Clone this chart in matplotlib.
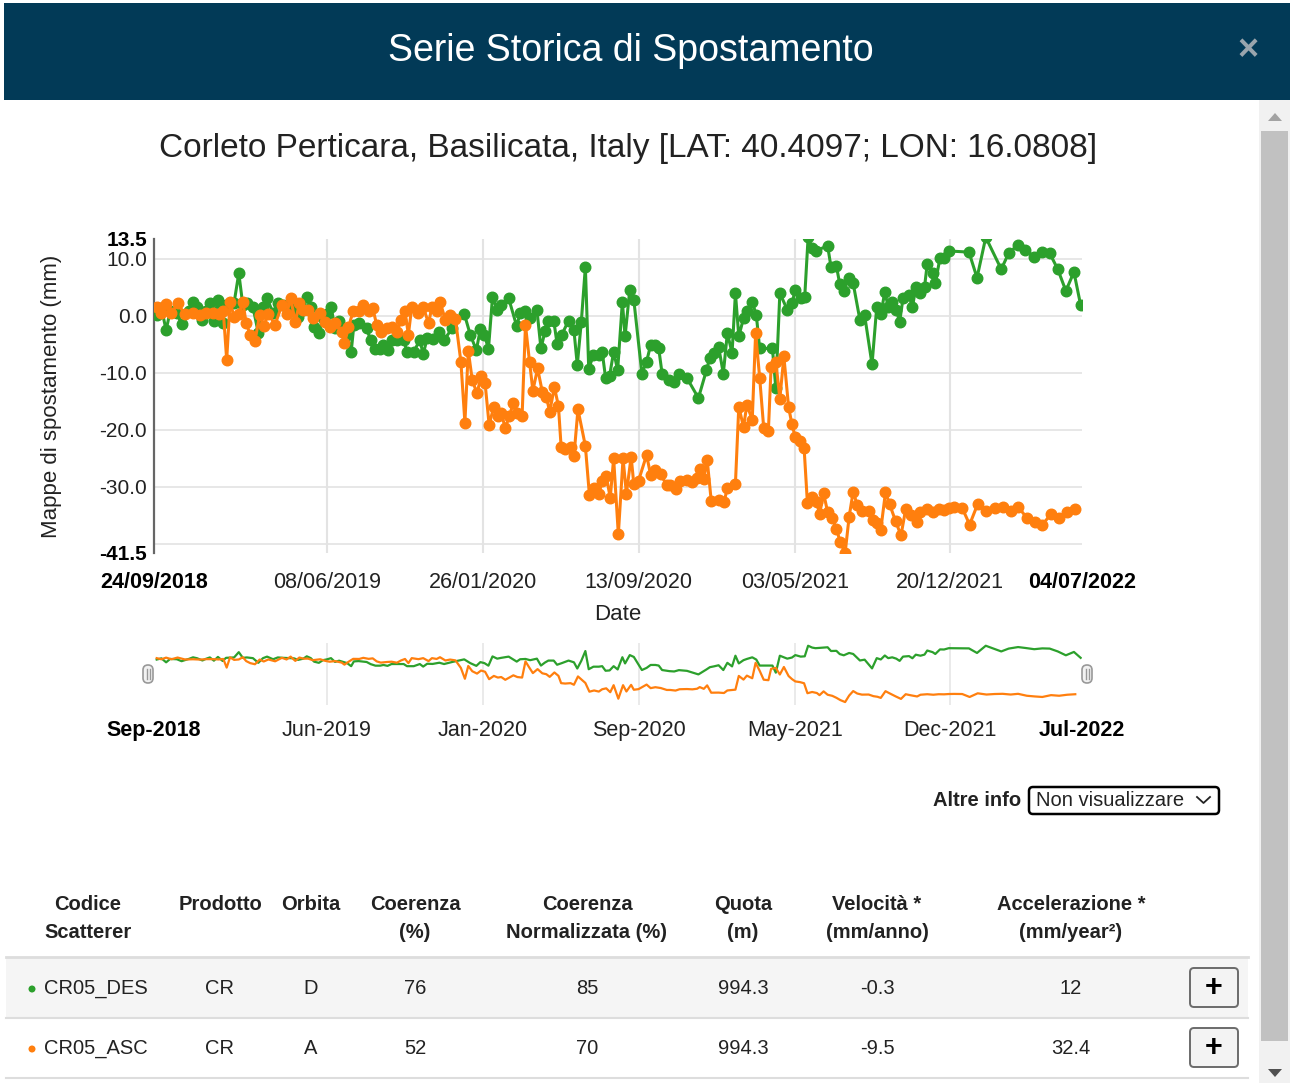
import matplotlib
matplotlib.use("Agg")
import matplotlib.pyplot as plt
from matplotlib.patches import Rectangle, FancyBboxPatch, Circle, Polygon
import pandas as pd

plt.rcParams['font.family'] = ['Liberation Sans', 'DejaVu Sans']

W, H = 1290, 1083

# ---------------- data ----------------
start_date = pd.Timestamp('2018-09-24')
end_date = pd.Timestamp('2022-07-04')

# CR05_DES (green): days since start date, displacement (mm)
des_day = [4, 11, 18, 24, 34, 41, 52, 58, 64, 72, 77, 83, 89, 95, 102, 107, 119, 126, 132, 138,
           147, 155, 162, 168, 177, 184, 192, 201, 208, 214, 222, 227, 233, 238, 245, 251, 257, 263,
           269, 275, 287, 293, 297, 304, 316, 322, 329, 336, 341, 347, 353, 361, 371, 376, 386, 395,
           400, 406, 414, 424, 431, 443, 461, 470, 479, 485, 491, 497, 503, 510, 516, 527, 539, 544,
           552, 559, 569, 575, 581, 586, 594, 599, 606, 616, 624, 629, 635, 641, 646, 653, 661, 666,
           671, 677, 683, 689, 696, 700, 707, 713, 725, 732, 738, 745, 750, 755, 766, 773, 780, 792,
           809, 821, 826, 832, 839, 846, 852, 859, 864, 869, 876, 881, 889, 895, 900, 919, 924, 930,
           941, 948, 953, 961, 967, 972, 978, 983, 1001, 1006, 1014, 1019, 1025, 1033, 1039, 1049,
           1056, 1067, 1074, 1080, 1086, 1091, 1097, 1103, 1108, 1113, 1122, 1127, 1132, 1139, 1145,
           1149, 1157, 1161, 1168, 1174, 1181, 1211, 1223, 1236, 1259, 1270, 1284, 1295, 1308, 1320,
           1331, 1343, 1355, 1367, 1377]
des_val = [0.2, 1.4, -2.5, 0.8, 0.5, -1.4, 0.9, 2.4, 1.5, -0.7, 0.9, 2.3, -0.9, 2.8, -1.2, 1.9, 2.3, 7.5, 1.9, 2.3,
           1.6, -3.0, 1.6, 3.1, 0.5, 2.3, 1.9, 1.6, 1.4, -0.1, 1.1, 3.4, 1.6, -1.9, -3.0, -0.4, 0.4, 1.6,
           -2.1, -0.9, -3.3, -6.3, -1.6, -1.3, -2.2, -4.3, -5.8, -5.8, -5.1, -6.0, -4.2, -4.2, -4.2, -6.3, -6.3, -4.2,
           -6.7, -3.9, -4.1, -2.9, -4.2, -2.2, 0.4, -3.3, -6.0, -2.3, -3.3, -5.8, 3.3, 1.1, 1.9, 3.1, -1.8, 0.5,
           0.8, -0.4, 1.1, -5.7, -2.7, -0.8, -0.8, -4.9, -3.3, -0.8, -2.5, -8.6, -1.0, 8.6, -9.3, -6.8, -6.8, -6.3,
           -10.8, -10.5, -6.3, -9.5, 2.5, -3.6, 4.6, 2.8, -10.1, -8.0, -5.1, -5.1, -5.7, -10.1, -11.2, -11.5, -10.2, -10.9,
           -14.4, -9.5, -7.3, -6.5, -5.4, -10.1, -3.0, -6.5, 4.0, -3.6, -0.4, 0.8, 2.4, 0.2, -5.7, -5.7, -12.7, 4.0,
           1.1, 2.2, 4.6, 3.1, 3.4, 13.8, 12.0, 11.4, 12.3, 8.6, 8.8, 5.6, 4.4, 6.7, 5.7, -0.7,
           0.1, -8.5, 1.6, 0.3, 4.2, 1.6, 2.4, 1.1, -1.1, 3.1, 3.6, 1.5, 5.0, 4.0, 5.1,
           9.1, 7.5, 5.7, 10.2, 10.1, 11.4, 11.2, 6.7, 13.8, 8.2, 11.0, 12.5, 11.6, 10.4, 11.2,
           11.0, 8.2, 4.4, 7.7, 1.9]

# CR05_ASC (orange)
asc_day = [4, 11, 18, 26, 35, 46, 58, 68, 78, 88, 96, 103, 108, 113, 119, 126, 132, 137, 143, 150,
           157, 163, 170, 180, 190, 197, 203, 210, 216, 222, 229, 236, 247, 254, 261, 269, 279, 283, 289,
           296, 305, 311, 319, 325, 331, 337, 346, 353, 361, 367, 373, 378, 383, 393, 400, 408, 413, 420,
           425, 433, 440, 448, 456, 462, 467, 473, 480, 486, 492, 498, 505, 511, 516, 522, 528, 534, 540,
           547, 552, 558, 563, 570, 577, 583, 588, 595, 601, 605, 611, 619, 624, 630, 641, 647, 654, 661,
           666, 672, 678, 683, 690, 697, 702, 709, 713, 720, 732, 738, 745, 753, 762, 767, 775, 781, 792,
           800, 807, 811, 817, 822, 828, 839, 847, 852, 864, 869, 876, 881, 889, 894, 900, 906, 913, 917,
           924, 930, 936, 943, 948, 953, 960, 966, 971, 978, 985, 989, 995, 1001, 1008, 1014, 1020, 1027,
           1033, 1039, 1045, 1052, 1062, 1069, 1075, 1080, 1087, 1093, 1102, 1110, 1117, 1125, 1134, 1139,
           1149, 1158, 1166, 1174, 1181, 1189, 1201, 1212, 1224, 1237, 1249, 1261, 1273, 1284, 1297, 1309,
           1320, 1333, 1345, 1357, 1369]
asc_val = [1.6, 0.5, 2.1, 0.5, 2.2, 0.3, 0.5, 0.2, 0.6, 0.6, 0.3, 0.8, -7.7, 2.4, -0.1, 0.3, 2.5, -1.3, -3.3, -4.4,
           0.2, -1.7, 0.3, -1.5, 1.9, 0.3, 3.1, -1.1, 2.2, 1.1, 1.1, -0.4, 0.5, -1.0, -1.9, -1.3, -2.8, -4.8, -2.0,
           0.9, 0.8, 1.9, 0.9, 1.4, -1.6, -2.8, -2.2, -1.9, -2.9, -0.7, 0.8, -3.3, 1.6, 0.6, 1.6, -1.3, 1.6, 0.8,
           2.5, -0.7, 0.2, -0.6, -8.0, -18.7, -6.1, -11.3, -13.6, -10.6, -11.8, -19.1, -15.9, -17.5, -17.0, -19.7, -17.5, -15.3, -17.0,
           -17.5, -1.6, -8.0, -13.1, -9.2, -13.3, -14.2, -16.8, -12.5, -15.8, -23.0, -23.4, -23.0, -24.6, -16.4, -22.8, -31.4, -30.2, -31.3,
           -29.0, -28.1, -31.9, -25.0, -38.3, -25.0, -31.2, -24.7, -29.5, -28.9, -24.4, -27.9, -27.0, -27.8, -29.7, -29.7, -30.3, -29.0, -28.8,
           -29.1, -28.5, -26.9, -28.6, -25.2, -32.4, -32.3, -32.7, -30.2, -29.4, -15.9, -19.5, -15.6, -18.2, -3.0, -10.8, -19.6, -20.1, -8.9,
           -8.0, -14.5, -7.1, -16.0, -19.0, -21.3, -22.0, -23.1, -32.9, -31.7, -32.7, -34.8, -31.1, -34.4, -35.5, -37.4, -39.7, -41.6,
           -35.2, -30.8, -33.2, -34.3, -34.2, -35.8, -36.4, -37.5, -30.9, -33.0, -36.0, -38.5, -33.9, -35.0, -36.1, -34.4,
           -33.9, -34.4, -33.9, -34.0, -33.7, -33.6, -33.7, -36.6, -33.0, -34.2, -33.7, -33.5, -34.2, -33.5, -35.4, -36.1,
           -36.6, -34.8, -35.4, -34.4, -33.9]

tick_dates = ['2018-09-24', '2019-06-08', '2020-01-26', '2020-09-13', '2021-05-03', '2021-12-20', '2022-07-04']
nav_labels = ['Sep-2018', 'Jun-2019', 'Jan-2020', 'Sep-2020', 'May-2021', 'Dec-2021', 'Jul-2022']
y_ticks = [10, 0, -10, -20, -30]
y_grid = [10, 0, -10, -20, -30, -40]
y_min, y_max = -41.5, 13.5

title = 'Serie Storica di Spostamento'
subtitle = 'Corleto Perticara, Basilicata, Italy [LAT: 40.4097; LON: 16.0808]'
y_label = 'Mappe di spostamento (mm)'
x_label = 'Date'

table_header = [('Codice', 'Scatterer'), ('Prodotto', ''), ('Orbita', ''), ('Coerenza', '(%)'),
                ('Coerenza', 'Normalizzata (%)'), ('Quota', '(m)'), ('Velocità *', '(mm/anno)'),
                ('Accelerazione *', '(mm/year²)')]
table_rows = [
    ['CR05_DES', 'CR', 'D', '76', '85', '994.3', '-0.3', '12'],
    ['CR05_ASC', 'CR', 'A', '52', '70', '994.3', '-9.5', '32.4'],
]

GREEN = '#2ca02c'
ORANGE = '#ff7f0e'
NAVY = '#023a57'

des_dates = start_date + pd.to_timedelta(des_day, unit='D')
asc_dates = start_date + pd.to_timedelta(asc_day, unit='D')
ticks = pd.to_datetime(tick_dates)

# ---------------- figure ----------------
fig = plt.figure(figsize=(W / 100, H / 100), dpi=100)
fig.patch.set_facecolor('white')

bg = fig.add_axes([0, 0, 1, 1], zorder=0)
bg.set_xlim(0, W)
bg.set_ylim(H, 0)
bg.axis('off')

def px_axes(x0, y0, x1, y1, **kw):
    return fig.add_axes([x0 / W, 1 - y1 / H, (x1 - x0) / W, (y1 - y0) / H], **kw)

# header
bg.add_patch(Rectangle((4, 3), W - 4, 97, facecolor=NAVY, edgecolor='none'))
bg.text(631, 51, title, color='white', fontsize=27, ha='center', va='center')
bg.text(1248, 51, '×', color='#9aa5ad', fontsize=26, fontweight='bold', ha='center', va='center')

# scrollbar
bg.add_patch(Rectangle((1259, 100), 31, H - 100, facecolor='#f1f1f1', edgecolor='none'))
bg.add_patch(Rectangle((1261, 131), 27, 910, facecolor='#c1c1c1', edgecolor='none'))
bg.add_patch(Polygon([[1268, 121], [1282, 121], [1275, 113]], closed=True, facecolor='#a3a3a3', edgecolor='none'))
bg.add_patch(Polygon([[1268, 1069], [1282, 1069], [1275, 1077]], closed=True, facecolor='#505050', edgecolor='none'))

# subtitle
bg.text(628, 149, subtitle, color='#222222', fontsize=24, ha='center', va='center')

# ---------------- main chart ----------------
ax = px_axes(154, 239, 1082, 552.5, zorder=2)
ax.set_facecolor('none')
for yv in y_grid:
    ax.axhline(yv, color='#e3e3e3', lw=1.2, zorder=0)
for t in ticks[1:-1]:
    ax.axvline(t, color='#e3e3e3', lw=1.5, zorder=0)
ax.plot(des_dates, des_val, color=GREEN, lw=2.2, marker='o', ms=7.6, zorder=3)
ax.plot(asc_dates, asc_val, color=ORANGE, lw=2.2, marker='o', ms=7.6, zorder=4)
ax.set_xlim(start_date, end_date)
ax.set_ylim(y_min, y_max)
for s in ['top', 'right', 'bottom']:
    ax.spines[s].set_visible(False)
ax.spines['left'].set_color('#666666')
ax.spines['left'].set_linewidth(1.6)
ax.set_yticks([y_max] + y_ticks + [y_min])
ax.set_yticklabels([f'{v:.1f}' for v in [y_max] + y_ticks + [y_min]])
ax.tick_params(axis='y', length=0, pad=5, labelsize=15, labelcolor='#222222')
ax.set_xticks(ticks)
ax.set_xticklabels([t.strftime('%d/%m/%Y') for t in ticks])
ax.tick_params(axis='x', length=0, pad=14, labelsize=15.5, labelcolor='#222222')
for i, lab in enumerate(ax.get_yticklabels()):
    if i in (0, len(y_ticks) + 1):
        lab.set_fontweight('bold')
        lab.set_color('black')
xl = ax.get_xticklabels()
for i in (0, len(xl) - 1):
    xl[i].set_fontweight('bold')
    xl[i].set_color('black')

bg.text(618, 615, x_label, fontsize=16, color='#222222', ha='center', va='center')
bg.text(52, 396, y_label, fontsize=16, color='#222222', ha='center', va='center', rotation=90)

# ---------------- navigator ----------------
nav = px_axes(154, 643, 1082, 705, zorder=2)
nav.set_facecolor('none')
for t in ticks[1:-1]:
    nav.axvline(t, color='#e6e6e6', lw=1.2, zorder=0)
nav.plot(des_dates, des_val, color=GREEN, lw=1.6, zorder=3)
nav.plot(asc_dates, asc_val, color=ORANGE, lw=1.6, zorder=4)
nav.set_xlim(start_date, end_date)
nav.set_ylim(-44.5, 16.5)
for s in nav.spines.values():
    s.set_visible(False)
nav.set_yticks([])
nav.set_xticks(ticks)
nav.set_xticklabels(nav_labels)
nav.tick_params(axis='x', length=0, pad=11, labelsize=15.5, labelcolor='#222222')
nl = nav.get_xticklabels()
for i in (0, len(nl) - 1):
    nl[i].set_fontweight('bold')
    nl[i].set_color('black')

for hx in (148, 1087):
    bg.add_patch(FancyBboxPatch((hx - 5, 665), 10, 18, boxstyle='round,pad=0,rounding_size=5',
                                facecolor='#f2f2f2', edgecolor='#999999', lw=1.2, zorder=3))
    bg.plot([hx - 1.5, hx - 1.5], [669, 679], color='#999999', lw=1, zorder=4)
    bg.plot([hx + 1.5, hx + 1.5], [669, 679], color='#999999', lw=1, zorder=4)

# ---------------- "Altre info" ----------------
bg.text(1021, 801, 'Altre info', fontsize=14.5, fontweight='bold', color='#222222', ha='right', va='center')
bg.add_patch(FancyBboxPatch((1029, 787), 190, 27, boxstyle='round,pad=0,rounding_size=4',
                            facecolor='white', edgecolor='black', lw=1.8))
bg.text(1036, 801, 'Non visualizzare', fontsize=14.5, color='#222222', ha='left', va='center')
bg.plot([1197, 1203.5, 1210], [797, 803, 797], color='#222222', lw=1.3)

# ---------------- table ----------------
col_x = [88, 220, 311, 415, 587, 743, 877, 1071]
for cx, (h1, h2) in zip(col_x, table_header):
    bg.text(cx, 904, h1, fontsize=14.5, fontweight='bold', color='#222222', ha='center', va='center')
    if h2:
        bg.text(cx, 933, h2, fontsize=14.5, fontweight='bold', color='#222222', ha='center', va='center')

bg.add_patch(Rectangle((6, 958), 1242, 60, facecolor='#f5f5f5', edgecolor='none'))
bg.plot([6, 1248], [957, 957], color='#dddddd', lw=2)
bg.plot([6, 1248], [1018, 1018], color='#dddddd', lw=1.5)
bg.plot([6, 1248], [1078, 1078], color='#dddddd', lw=1.5)

row_y = [989, 1049]
row_colors = [GREEN, ORANGE]
for ry, rc, row in zip(row_y, row_colors, table_rows):
    bg.add_patch(Circle((32, ry), 3.5, facecolor=rc, edgecolor='none'))
    bg.text(44, ry, row[0], fontsize=14.5, color='#222222', ha='left', va='center')
    for cx, val in zip(col_x[1:], row[1:]):
        bg.text(cx, ry, val, fontsize=14.5, color='#222222', ha='center', va='center')
    bg.add_patch(FancyBboxPatch((1190, ry - 21), 48, 39, boxstyle='round,pad=0,rounding_size=4',
                                facecolor='#f3f3f3', edgecolor='#6b6b6b', lw=1.4))
    bg.text(1214, ry - 1, '+', fontsize=22, fontweight='bold', color='black', ha='center', va='center')

fig.savefig('out.png', dpi=100, facecolor='white')
